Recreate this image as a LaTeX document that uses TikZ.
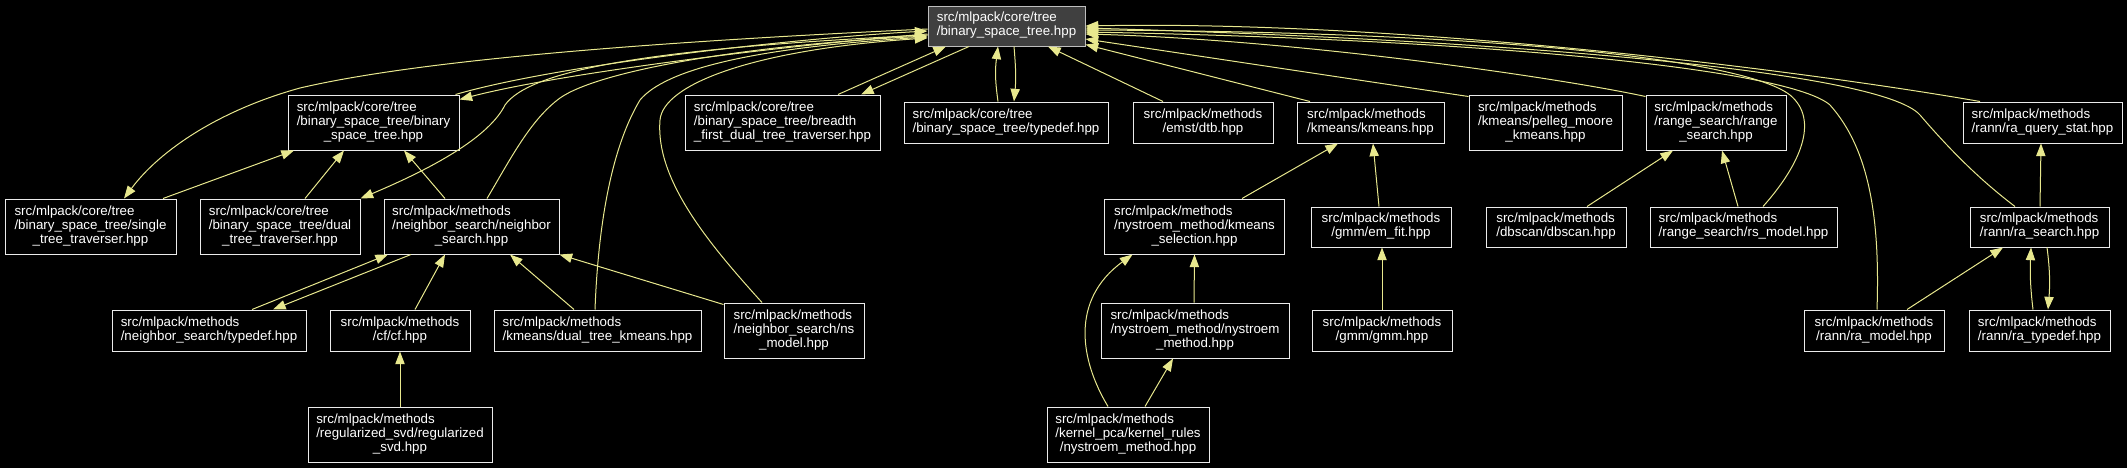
\documentclass[tikz,border=0pt]{standalone}
\usepackage{fontspec}
\setmainfont{Liberation Sans}
\usetikzlibrary{arrows.meta,calc}
\definecolor{edgecol}{RGB}{232,232,142}
\definecolor{boxcol}{RGB}{235,235,235}
\definecolor{rootfill}{RGB}{64,64,64}
\definecolor{rootline}{RGB}{190,190,190}
\renewcommand\arraystretch{0.9375}
\newcommand\ltwo[2]{\begin{tabular}{@{}l@{}}#1\\\multicolumn{1}{@{}c@{}}{#2}\end{tabular}}
\newcommand\lthree[3]{\begin{tabular}{@{}l@{}}#1\\#2\\\multicolumn{1}{@{}c@{}}{#3}\end{tabular}}
\begin{document}
\begin{tikzpicture}[x=0.75pt,y=-0.75pt,
  box/.style={draw=boxcol,fill=black,text=white,line width=0.75pt,inner sep=0pt,
    font=\fontsize{10}{11.25}\selectfont},
  rootbox/.style={box,draw=rootline,fill=rootfill},
  wh/.style 2 args={minimum width=#1*0.75pt,minimum height=#2*0.75pt},
  edge/.style={draw=edgecol,line width=0.75pt,-{Triangle[length=9.5pt,width=7pt]},edgecol}]
\fill[black] (0,0) rectangle (2127,468);
\useasboundingbox (0,0) rectangle (2127,468);

% nodes
\node[rootbox,wh={157}{40}] (root) at (1006.5,26) {\ltwo{src/mlpack/core/tree}{/binary\_space\_tree.hpp}};
\node[box,wh={171}{55}] (bst) at (373.5,122.5) {\lthree{src/mlpack/core/tree}{/binary\_space\_tree/binary}{\_space\_tree.hpp}};
\node[box,wh={195}{55}] (breadth) at (782.5,122.5) {\lthree{src/mlpack/core/tree}{/binary\_space\_tree/breadth}{\_first\_dual\_tree\_traverser.hpp}};
\node[box,wh={204}{41}] (typedef) at (1006,122.5) {\ltwo{src/mlpack/core/tree}{/binary\_space\_tree/typedef.hpp}};
\node[box,wh={140}{41}] (emst) at (1203,122.5) {\ltwo{src/mlpack/methods}{/emst/dtb.hpp}};
\node[box,wh={147}{41}] (kmeans) at (1370.5,122.5) {\ltwo{src/mlpack/methods}{/kmeans/kmeans.hpp}};
\node[box,wh={153}{55}] (pelleg) at (1545.5,122.5) {\lthree{src/mlpack/methods}{/kmeans/pelleg\_moore}{\_kmeans.hpp}};
\node[box,wh={140}{55}] (range) at (1716,122.5) {\lthree{src/mlpack/methods}{/range\_search/range}{\_search.hpp}};
\node[box,wh={159}{41}] (raqs) at (2042.5,122.5) {\ltwo{src/mlpack/methods}{/rann/ra\_query\_stat.hpp}};

\node[box,wh={171}{55}] (single) at (90.5,226.5) {\lthree{src/mlpack/core/tree}{/binary\_space\_tree/single}{\_tree\_traverser.hpp}};
\node[box,wh={160}{55}] (dual) at (280,226.5) {\lthree{src/mlpack/core/tree}{/binary\_space\_tree/dual}{\_tree\_traverser.hpp}};
\node[box,wh={175}{55}] (ns) at (471.5,226.5) {\lthree{src/mlpack/methods}{/neighbor\_search/neighbor}{\_search.hpp}};
\node[box,wh={180}{55}] (ksel) at (1194.5,226.5) {\lthree{src/mlpack/methods}{/nystroem\_method/kmeans}{\_selection.hpp}};
\node[box,wh={140}{40}] (emfit) at (1381,227) {\ltwo{src/mlpack/methods}{/gmm/em\_fit.hpp}};
\node[box,wh={140}{40}] (dbscan) at (1556,227) {\ltwo{src/mlpack/methods}{/dbscan/dbscan.hpp}};
\node[box,wh={187}{40}] (rs) at (1743.5,227) {\ltwo{src/mlpack/methods}{/range\_search/rs\_model.hpp}};
\node[box,wh={139}{40}] (ras) at (2039.5,227) {\ltwo{src/mlpack/methods}{/rann/ra\_search.hpp}};

\node[box,wh={194}{41}] (nstd) at (209,330.5) {\ltwo{src/mlpack/methods}{/neighbor\_search/typedef.hpp}};
\node[box,wh={140}{41}] (cf) at (400,330.5) {\ltwo{src/mlpack/methods}{/cf/cf.hpp}};
\node[box,wh={207}{41}] (dtk) at (597.5,330.5) {\ltwo{src/mlpack/methods}{/kmeans/dual\_tree\_kmeans.hpp}};
\node[box,wh={140}{55}] (nsm) at (794,330.5) {\lthree{src/mlpack/methods}{/neighbor\_search/ns}{\_model.hpp}};
\node[box,wh={188}{55}] (nys) at (1195,330.5) {\lthree{src/mlpack/methods}{/nystroem\_method/nystroem}{\_method.hpp}};
\node[box,wh={140}{41}] (gmm) at (1382,330.5) {\ltwo{src/mlpack/methods}{/gmm/gmm.hpp}};
\node[box,wh={140}{41}] (ram) at (1874,330.5) {\ltwo{src/mlpack/methods}{/rann/ra\_model.hpp}};
\node[box,wh={141}{41}] (ratd) at (2039.5,330.5) {\ltwo{src/mlpack/methods}{/rann/ra\_typedef.hpp}};

\node[box,wh={184}{55}] (svd) at (400,434.5) {\lthree{src/mlpack/methods}{/regularized\_svd/regularized}{\_svd.hpp}};
\node[box,wh={162}{55}] (kr) at (1128,434.5) {\lthree{src/mlpack/methods}{/kernel\_pca/kernel\_rules}{/nystroem\_method.hpp}};

% edges: root left side
\draw[edge] ($(root.west)+(0,3)$) .. controls (650,42) and (420,60) .. (300,88) .. controls (220,110) and (160,150) .. ($(single.north)+(33.5,0)$);
\draw[edge] ($(root.west)+(0,8)$) .. controls (800,44) and (565,72) .. ($(bst.north east)+(0,5)$);
\draw[edge] ($(bst.north east)+(-4,0)$) .. controls (560,64) and (800,38) .. ($(root.west)+(0,5)$);
\draw[edge] ($(root.west)+(0,9)$) .. controls (650,48) and (530,70) .. (505,105) .. controls (490,135) and (440,165) .. (dual.north east);
\draw[edge] ($(ns.north)+(15.5,0)$) .. controls (510,160) and (530,120) .. (560,98) .. controls (600,70) and (750,45) .. ($(root.west)+(0,10)$);
\draw[edge] ($(dtk.north)+(-2.5,0)$) .. controls (598,230) and (610,150) .. (640,100) .. controls (665,70) and (750,48) .. ($(root.west)+(0,11)$);
\draw[edge] ($(nsm.north)+(-32,0)$) .. controls (710,245) and (655,180) .. (660,120) .. controls (663,85) and (750,50) .. ($(root.west)+(0,12)$);

\draw[edge] ($(single.north)+(72.5,0)$) -- ($(bst.south)+(-79.5,0)$);
\draw[edge] ($(dual.north)+(25,0)$) -- ($(bst.south)+(-29.5,0)$);
\draw[edge] ($(ns.north)+(-26.5,0)$) -- ($(bst.south)+(30.5,0)$);

% root bottom
\draw[edge] ($(breadth.north)+(55.5,0)$) -- ($(root.south)+(-60.5,0)$);
\draw[edge] ($(root.south)+(-37.5,0)$) -- ($(breadth.north)+(78.5,0)$);
\draw[edge] ($(root.south)+(7.5,0)$) .. controls (1016,70) and (1016,80) .. ($(typedef.north)+(8,0)$);
\draw[edge] ($(typedef.north)+(-8,0)$) .. controls (995,80) and (995,70) .. ($(root.south)+(-8.5,0)$);
\draw[edge] ($(emst.north)+(-40,0)$) -- ($(root.south)+(41.5,0)$);

% root right side
\draw[edge] ($(kmeans.north)+(-60.5,0)$) -- ($(root.south east)+(0,-2)$);
\draw[edge] ($(pelleg.north west)+(0,2)$) -- ($(root.east)+(0,13)$);
\draw[edge] ($(range.north west)+(0,2)$) .. controls (1560,78) and (1300,40) .. ($(root.east)+(0,8)$);
\draw[edge] ($(raqs.north)+(-62.5,0)$) .. controls (1800,70) and (1400,20) .. (root.east);
\draw[edge] ($(rs.north)+(19.5,0)$) .. controls (1800,165) and (1820,120) .. (1790,95) .. controls (1745,60) and (1500,32) .. ($(root.east)+(0,4)$);
\draw[edge] ($(ram.north)+(3,0)$) .. controls (1880,220) and (1870,150) .. (1830,105) .. controls (1790,70) and (1500,40) .. ($(root.east)+(0,6)$);
\draw[edge] ($(ras.north)+(-24.5,0)$) .. controls (1980,180) and (1950,150) .. (1920,115) .. controls (1880,70) and (1500,40) .. ($(root.east)+(0,2)$);

% middle cluster
\draw[edge] ($(ksel.north)+(47.5,0)$) -- ($(kmeans.south)+(-32.5,0)$);
\draw[edge] ($(emfit.north)+(-2,0)$) -- ($(kmeans.south)+(2.5,0)$);
\draw[edge] (gmm.north) -- ($(emfit.south)+(1,0)$);
\draw[edge] ($(nys.north)+(-1,0)$) -- (ksel.south);
\draw[edge] ($(kr.north)+(17,0)$) -- ($(nys.south)+(-22,0)$);
\draw[edge] ($(kr.north)+(-20,0)$) .. controls (1080,360) and (1070,300) .. ($(ksel.south)+(-62,0)$);

% lower left
\draw[edge] ($(nstd.north)+(43,0)$) -- ($(ns.south)+(-83.5,0)$);
\draw[edge] ($(ns.south)+(-60.5,0)$) -- ($(nstd.north)+(64,0)$);
\draw[edge] ($(cf.north)+(15,0)$) -- ($(ns.south)+(-26.5,0)$);
\draw[edge] ($(dtk.north)+(-23.5,0)$) -- ($(ns.south)+(38.5,0)$);
\draw[edge] ($(nsm.north west)+(0,2)$) -- (ns.south east);
\draw[edge] (svd.north) -- (cf.south);

% lower right
\draw[edge] ($(dbscan.north)+(31,0)$) -- ($(range.south)+(-43,0)$);
\draw[edge] ($(rs.north)+(-5.5,0)$) -- ($(range.south)+(6,0)$);
\draw[edge] ($(ras.north)+(0.5,0)$) -- ($(raqs.south)+(-1.5,0)$);
\draw[edge] ($(ram.north)+(33,0)$) -- ($(ras.south)+(-36.5,0)$);
\draw[edge] ($(ratd.north)+(-6.5,0)$) .. controls (2030,285) and (2030,270) .. ($(ras.south)+(-8.5,0)$);
\draw[edge] ($(ras.south)+(7.5,0)$) .. controls (2050,270) and (2050,285) .. ($(ratd.north)+(8.5,0)$);
\end{tikzpicture}
\end{document}
